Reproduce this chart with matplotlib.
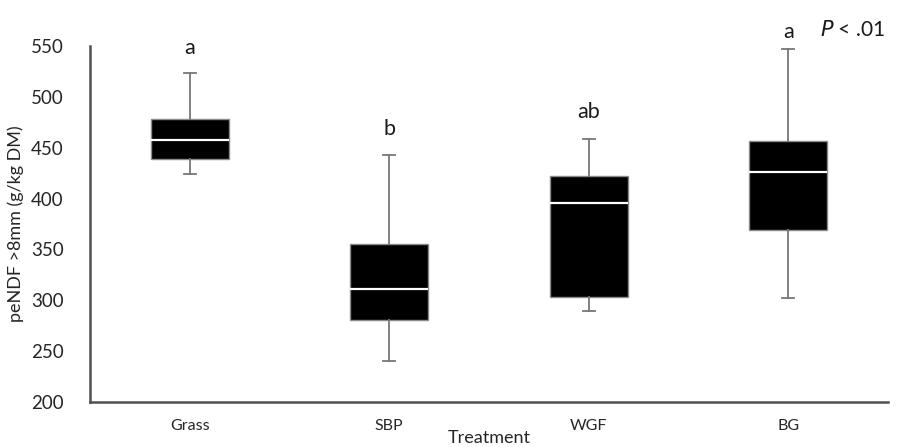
import matplotlib.pyplot as plt

treatments = ['Grass', 'SBP', 'WGF', 'BG']
whisk_lo = [424, 240, 289, 302]
q1 = [439, 281, 303, 369]
med = [458, 311, 396, 426]
q3 = [478, 355, 422, 457]
whisk_hi = [523, 443, 459, 547]
letters = ['a', 'b', 'ab', 'a']
letter_y = [548, 468, 485, 564]

plt.rcParams['font.family'] = ['Lato', 'DejaVu Sans']

fig = plt.figure(figsize=(9.01, 4.47), dpi=100)
ax = fig.add_axes([90/901, 1-402/447, 798/901, 356/447])

stats = []
for i in range(len(treatments)):
    stats.append({'label': treatments[i], 'whislo': whisk_lo[i], 'q1': q1[i],
                  'med': med[i], 'q3': q3[i], 'whishi': whisk_hi[i]})

ax.bxp(stats, positions=range(len(treatments)), widths=0.39, capwidths=0.06,
       showfliers=False, patch_artist=True,
       boxprops=dict(facecolor='black', edgecolor='#8a8a8a', linewidth=1),
       medianprops=dict(color='white', linewidth=1.6),
       whiskerprops=dict(color='#777777', linewidth=1.3),
       capprops=dict(color='#777777', linewidth=1.3))

for i, t in enumerate(letters):
    ax.text(i, letter_y[i], t, ha='center', va='center', fontsize=15.5,
            color='#1a1a1a', clip_on=False)

ax.set_xlim(-0.5, 3.5)
ax.set_ylim(200, 550)
ax.set_yticks(range(200, 551, 50))
ax.tick_params(length=0, labelsize=13.5, colors='#262626')
ax.tick_params(axis='y', pad=19)
ax.tick_params(axis='x', labelsize=11.5, pad=12)
ax.spines['top'].set_visible(False)
ax.spines['right'].set_visible(False)
for s in ['left', 'bottom']:
    ax.spines[s].set_color('#505050')
    ax.spines[s].set_linewidth(1.8)

ax.set_ylabel('peNDF >8mm (g/kg DM)', fontsize=13, color='#262626', labelpad=5)
ax.set_xlabel('Treatment', fontsize=13, color='#262626', labelpad=-2)

fig.text(820/901, 1-30/447, '$\\it{P}$ < .01', fontsize=15, va='center', ha='left',
         color='#1a1a1a')

fig.savefig('out.png', dpi=100)
